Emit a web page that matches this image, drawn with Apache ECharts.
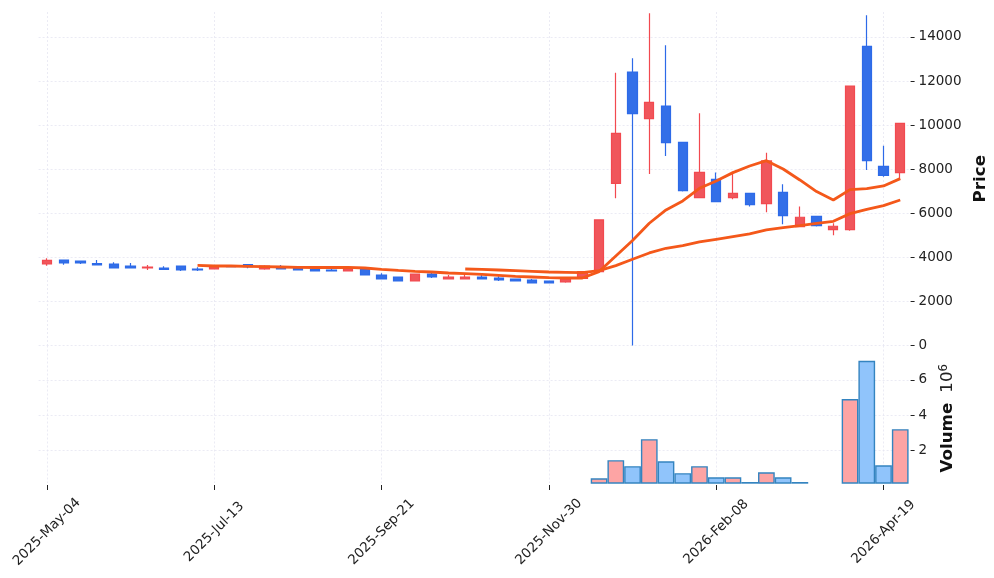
<!DOCTYPE html>
<html><head><meta charset="utf-8">
<style>html,body{margin:0;padding:0;background:#fff}#c{width:994px;height:578px}</style>
<script src="https://cdn.jsdelivr.net/npm/echarts@6/dist/echarts.min.js"></script>
</head><body><div id="c"></div>
<script>
const categories=["2025-May-04","2025-May-11","2025-May-18","2025-May-25","2025-Jun-01","2025-Jun-08","2025-Jun-15","2025-Jun-22","2025-Jun-29","2025-Jul-06","2025-Jul-13","2025-Jul-20","2025-Jul-27","2025-Aug-03","2025-Aug-10","2025-Aug-17","2025-Aug-24","2025-Aug-31","2025-Sep-07","2025-Sep-14","2025-Sep-21","2025-Sep-28","2025-Oct-05","2025-Oct-12","2025-Oct-19","2025-Oct-26","2025-Nov-02","2025-Nov-09","2025-Nov-16","2025-Nov-23","2025-Nov-30","2025-Dec-07","2025-Dec-14","2025-Dec-21","2025-Dec-28","2026-Jan-04","2026-Jan-11","2026-Jan-18","2026-Jan-25","2026-Feb-01","2026-Feb-08","2026-Feb-15","2026-Feb-22","2026-Mar-01","2026-Mar-08","2026-Mar-15","2026-Mar-22","2026-Mar-29","2026-Apr-05","2026-Apr-12","2026-Apr-19","2026-Apr-26"];
const opens=[3698,3879,3834,3713,3698,3607,3516,3516,3607,3471,3471,3610,3667,3471,3577,3501,3471,3426,3380,3456,3199,3108,2926,3244,3017,3017,3108,3063,3017,2972,2926,2881,3050,3353,7360,12410,10293,10868,9220,6710,7541,6710,6906,6438,6952,5394,5863,5258,5258,13574,8131,7844];
const closes=[3864,3743,3743,3652,3516,3516,3562,3456,3426,3426,3577,3580,3577,3607,3471,3426,3380,3380,3471,3199,3017,2926,3244,3108,3108,3108,3017,2972,2926,2836,2836,3020,3353,5697,9628,10520,11034,9205,7027,7859,6528,6906,6392,8373,5893,5818,5440,5410,11775,8388,7723,10082];
const lows=[3622,3668,3698,3652,3516,3516,3426,3426,3380,3380,3471,3570,3500,3440,3471,3426,3380,3380,3380,3199,3017,2926,2926,3063,3017,3017,3017,2926,2926,2836,2836,2851,3050,3353,6680,0,7783,8600,6982,6710,6528,6634,6302,6045,5500,5394,5394,5001,5210,7965,7662,7511];
const highs=[3955,3879,3834,3879,3773,3743,3652,3592,3607,3547,3610,3625,3667,3640,3652,3577,3500,3607,3607,3456,3274,3108,3260,3290,3199,3199,3199,3140,3017,3017,2926,3020,3353,5697,12380,13030,15071,13620,9220,10535,7844,7889,6906,8751,7315,6302,5863,5545,11775,14980,9068,10082];
const volumes=[40000,40000,30000,30000,40000,30000,30000,30000,40000,30000,30000,30000,30000,30000,30000,30000,30000,30000,30000,40000,40000,40000,50000,30000,30000,30000,30000,30000,30000,30000,30000,50000,90000,400000,1430000,1090000,2630000,1370000,690000,1090000,460000,460000,190000,740000,460000,190000,90000,80000,4910000,7090000,1140000,3200000];
const ma10=[null,null,null,null,null,null,null,null,null,3637,3607,3607,3592,3577,3562,3547,3540,3540,3547,3516,3456,3410,3365,3335,3290,3260,3229,3184,3138,3108,3078,3063,3063,3353,4064,4760,5546,6150,6558,7133,7466,7844,8146,8388,8010,7511,6982,6604,7073,7118,7239,7572];
const ma26=[null,null,null,null,null,null,null,null,null,null,null,null,null,null,null,null,null,null,null,null,null,null,null,null,null,3471,3456,3426,3395,3365,3335,3320,3305,3400,3625,3913,4200,4412,4532,4699,4820,4941,5062,5243,5350,5440,5545,5636,5984,6180,6347,6604];
const priceTicks=[0,2000,4000,6000,8000,10000,12000,14000];
const volumeTicks=[2000000,4000000,6000000];

const RED='#f0565b',BLUE='#336fe8',WICKR='#f2494f',WICKB='#2d6ae8';
const font='"DejaVu Sans"',ink='#222';
const grid={color:'#e6e6f2',type:[2,2],width:0.8};
const tenth=i=>i%10===0;
const chart=echarts.init(document.getElementById('c'),null,{renderer:'canvas'});
chart.setOption({
 animation:false,backgroundColor:'#fff',
 grid:[{left:38.6,width:870,top:12,height:333.5,outerBoundsMode:'none'},{left:38.6,width:870,top:345.5,height:137.5,outerBoundsMode:'none'}],
 xAxis:[
  {type:'category',gridIndex:0,data:categories,axisLine:{show:false},axisTick:{show:false},axisLabel:{show:false},
   splitLine:{show:true,interval:tenth,alignWithLabel:true,lineStyle:grid}},
  {type:'category',gridIndex:1,data:categories,offset:2,axisLine:{show:false},
   axisTick:{show:true,interval:tenth,alignWithLabel:true,length:5,lineStyle:{color:ink,width:1}},
   axisLabel:{interval:tenth,rotate:45,align:'center',verticalAlign:'middle',margin:47,fontFamily:font,fontSize:13.5,color:ink},
   splitLine:{show:true,interval:tenth,alignWithLabel:true,lineStyle:grid}}
 ],
 yAxis:[
  {type:'value',gridIndex:0,position:'right',offset:2,min:0,max:15132,
   name:'Price',nameLocation:'middle',nameRotate:90,nameGap:52,
   nameTextStyle:{fontFamily:font,fontWeight:'bold',fontSize:16.7,color:'#111'},
   axisLine:{show:false},axisTick:{show:true,length:4,lineStyle:{color:ink,width:1},customValues:priceTicks},
   axisLabel:{margin:8,padding:[3,0,0,0],fontFamily:font,fontSize:13.5,color:ink,customValues:priceTicks,formatter:v=>String(v)},
   splitLine:{show:true,lineStyle:grid}},
  {type:'value',gridIndex:1,position:'right',offset:2,min:133000,max:7962000,
   name:'{b|Volume}   {n|10}{s|6}',nameLocation:'middle',nameRotate:90,nameGap:20,
   nameTextStyle:{color:ink,padding:[0,8,0,0],rich:{
     b:{fontFamily:font,fontWeight:'bold',fontSize:16.7,color:'#111'},
     n:{fontFamily:font,fontSize:16.7,color:ink},
     s:{fontFamily:font,fontSize:11.7,color:ink,verticalAlign:'top',lineHeight:20}}},
   axisLine:{show:false},axisTick:{show:true,length:4,lineStyle:{color:ink,width:1},customValues:volumeTicks},
   axisLabel:{margin:8,padding:[3,0,0,0],fontFamily:font,fontSize:13.5,color:ink,customValues:volumeTicks,formatter:v=>String(v/1000000)},
   splitLine:{show:true,lineStyle:grid}}
 ],
 series:[
  {type:'candlestick',xAxisIndex:0,yAxisIndex:0,barWidth:9.8,
   data:categories.map((_,i)=>[opens[i],closes[i],lows[i],highs[i]]),
   itemStyle:{color:RED,color0:BLUE,borderColor:WICKR,borderColor0:WICKB,borderWidth:1.2}},
  {type:'line',xAxisIndex:0,yAxisIndex:0,data:ma10,showSymbol:false,connectNulls:false,z:5,
   lineStyle:{color:'#f4581a',width:2.8}},
  {type:'line',xAxisIndex:0,yAxisIndex:0,data:ma26,showSymbol:false,connectNulls:false,z:5,
   lineStyle:{color:'#f4581a',width:2.8}},
  {type:'bar',xAxisIndex:1,yAxisIndex:1,barWidth:'100%',barCategoryGap:'0%',
   data:volumes.map((v,i)=>({value:v,itemStyle:{color:closes[i]>=opens[i]?'#fda4a4':'#90c4fb'}})),
   itemStyle:{borderColor:'#3484c0',borderWidth:1.4}}
 ]
});
</script></body></html>
